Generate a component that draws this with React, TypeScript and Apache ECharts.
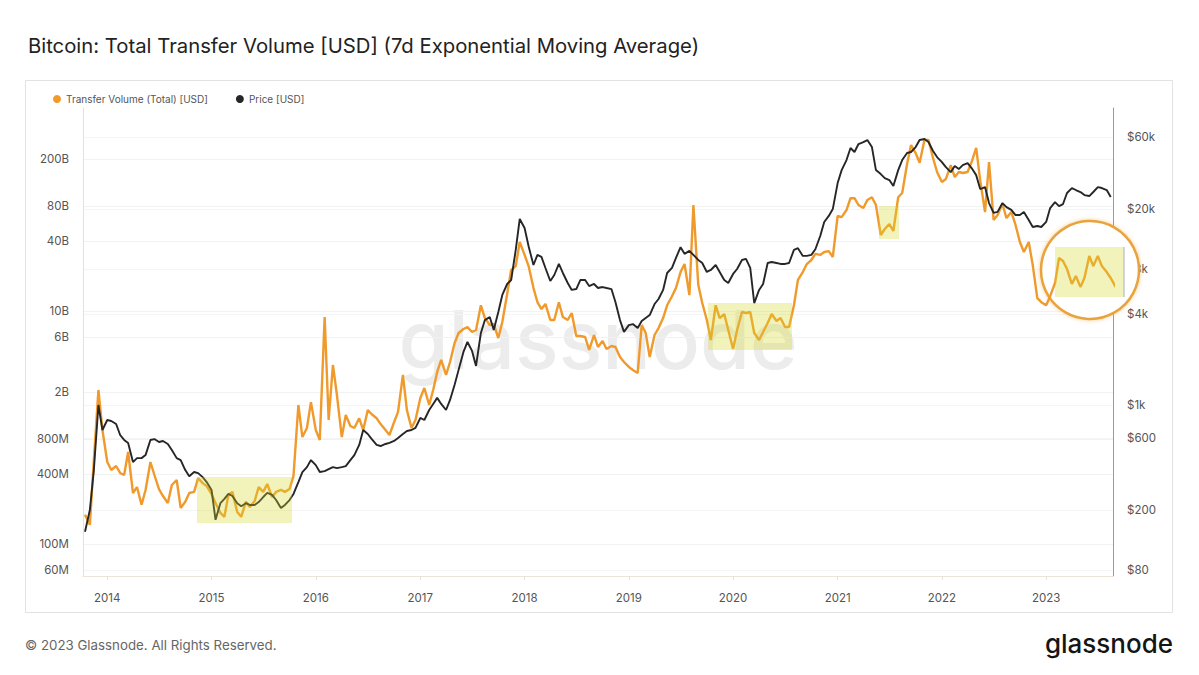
import React, { useEffect, useRef } from "react";
import * as echarts from "echarts";

// Semi-monthly samples (1st and 15th of each month), first sample 2013-10-15.
// Transfer volume in billions of USD (7d EMA).
const transferVolume: number[] = [
  // 2013
  0.178, 0.146, 0.526, 2.10, 0.952,
  // 2014
  0.505, 0.432, 0.467, 0.407, 0.391, 0.616, 0.274, 0.308, 0.217, 0.291, 0.505, 0.391,
  0.296, 0.258, 0.225, 0.321, 0.354, 0.204, 0.230, 0.274, 0.280, 0.368, 0.333, 0.314,
  // 2015
  0.269, 0.225, 0.185, 0.171, 0.264, 0.280, 0.188, 0.171, 0.230, 0.208, 0.234, 0.308,
  0.280, 0.327, 0.253, 0.280, 0.291, 0.280, 0.296, 0.384, 1.56, 0.828, 0.989, 1.65,
  // 2016
  0.952, 0.781, 8.87, 1.16, 3.44, 1.90, 0.828, 1.28, 1.03, 0.989, 1.20, 0.952,
  1.41, 1.30, 1.20, 1.07, 0.952, 0.862, 1.11, 1.36, 2.83, 1.41, 0.989, 1.16,
  // 2017
  1.79, 2.18, 1.56, 2.10, 3.00, 3.80, 2.83, 3.65, 5.31, 6.47, 7.01, 7.28,
  6.60, 6.87, 11.2, 8.70, 7.58, 7.73, 5.86, 8.04, 14.0, 22.5, 24.3, 39.1,
  // 2018
  30.3, 24.3, 15.8, 11.9, 10.4, 11.5, 8.37, 8.37, 11.9, 8.87, 8.37, 9.61,
  6.10, 6.10, 5.98, 4.63, 6.22, 4.91, 5.53, 4.72, 5.01, 4.91, 4.03, 3.65,
  // 2019
  3.31, 3.12, 2.94, 7.58, 6.47, 4.03, 6.22, 7.14, 8.70, 11.2, 13.4, 15.8,
  21.6, 25.3, 13.7, 81.3, 16.8, 11.7, 8.37, 5.64, 11.2, 8.70, 9.42, 6.87,
  // 2020
  4.72, 6.87, 9.80, 9.61, 9.80, 6.47, 5.64, 6.60, 7.88, 9.42, 8.20, 8.70,
  7.28, 7.28, 11.2, 18.5, 21.6, 25.3, 27.4, 30.9, 30.3, 32.1, 32.7, 29.1,
  // 2021
  65.4, 64.0, 73.6, 93.0, 93.0, 81.3, 76.5, 89.7, 94.8, 81.3, 44.9, 50.6,
  55.8, 48.6, 94.8, 103, 183, 266, 227, 187, 294, 294, 206, 156,
  // 2022
  128, 136, 179, 141, 156, 153, 156, 190, 251, 133, 70.7, 190,
  60.4, 66.7, 82.9, 62.8, 70.7, 55.8, 39.1, 32.1, 39.1, 24.8, 12.9, 11.9,
  // 2023
  11.2, 13.4, 17.4, 28.5, 26.9, 22.9, 17.1, 20.0, 16.1, 19.2, 29.7, 24.3,
  29.7, 24.3, 21.6, 19.2, 16.1, 21.6, 19.6,
];

// BTC price in USD on the same sample dates.
const btcPrice: number[] = [
  // 2013
  144, 201, 370, 1000, 682,
  // 2014
  795, 783, 748, 632, 586, 560, 418, 444, 444, 465, 586, 594,
  568, 577, 551, 502, 444, 431, 370, 337, 359, 353, 332, 308,
  // 2015
  273, 173, 223, 238, 257, 249, 223, 213, 223, 217, 217, 227,
  245, 261, 253, 234, 207, 217, 234, 257, 308, 359, 387, 431,
  // 2016
  399, 359, 364, 375, 387, 381, 387, 393, 431, 465, 543, 682,
  642, 594, 543, 534, 551, 560, 577, 604, 642, 672, 682, 704,
  // 2017
  820, 795, 926, 1016, 1115, 1016, 926, 1080, 1361, 1710, 2250, 2620,
  2285, 1815, 3008, 3660, 3834, 3150, 4142, 5371, 6352, 6750, 10700, 17160,
  // 2018
  14960, 11310, 8490, 9910, 9610, 8115, 6649, 7288, 8629, 7516, 6446, 5800,
  5879, 6750, 6750, 6156, 6352, 5974, 6062, 5974, 5879, 4821, 3660, 3056,
  // 2019
  3389, 3444, 3239, 3605, 3779, 3954, 4677, 5052, 5800, 7516, 8115, 9470,
  11140, 10070, 10540, 9910, 9170, 8757, 7634, 7870, 8490, 7634, 6750, 6446,
  // 2020
  7406, 7987, 9170, 9320, 8115, 4746, 5800, 6352, 8757, 8895, 8757, 8629,
  8629, 8757, 10700, 10970, 9758, 9758, 9910, 10800, 13220, 16390, 17970, 19950,
  // 2021
  29700, 36200, 42200, 50710, 47720, 53920, 55580, 57300, 51460, 36200, 34060, 32040,
  31100, 28360, 36200, 42200, 46990, 47720, 51460, 57300, 58180, 55580, 48460, 44180,
  // 2022
  40930, 37900, 35110, 38490, 36760, 39080, 40300, 37350, 33520, 27090, 27930, 21870,
  18810, 19110, 21870, 20560, 19700, 18240, 18240, 19110, 16900, 15180, 15410, 15180,
  // 2023
  16390, 20270, 22210, 20880, 21550, 25500, 27520, 26700, 25900, 24720, 24350, 25900,
  27930, 27520, 26700, 23980,
];

const volumeTicks = [0.06, 0.1, 0.4, 0.8, 2, 6, 10, 40, 80, 200];
const priceTicks = [80, 200, 600, 1000, 4000, 8000, 20000, 60000];
const yearTicks = [2014, 2015, 2016, 2017, 2018, 2019, 2020, 2021, 2022, 2023];

const VOLUME_NAME = "Transfer Volume (Total) [USD]";
const PRICE_NAME = "Price [USD]";
const ORANGE = "#f09a2c";
const DARK = "#262626";
const FONT = "Inter, 'Noto Sans', sans-serif";

function sampleDates(count: number): number[] {
  const out: number[] = [];
  let y = 2013;
  let m = 9;
  let d = 15;
  while (out.length < count) {
    out.push(new Date(y, m, d).getTime());
    if (d === 1) {
      d = 15;
    } else {
      d = 1;
      m += 1;
      if (m === 12) {
        m = 0;
        y += 1;
      }
    }
  }
  return out;
}

function volumeLabel(v: number): string {
  if (v < 1) return `${Math.round(v * 1000)}M`;
  return `${Math.round(v)}B`;
}

function priceLabel(v: number): string {
  if (v >= 1000) return `$${Math.round(v / 1000)}k`;
  return `$${Math.round(v)}`;
}

export default function App() {
  const ref = useRef<HTMLDivElement>(null);

  useEffect(() => {
    document.body.style.margin = "0";
    if (!ref.current) return;
    const chart = echarts.init(ref.current, null, { renderer: "svg" });

    const dates = sampleDates(transferVolume.length);
    const volumeData = transferVolume.map((v, i) => [dates[i], v]);
    const priceData = btcPrice.map((v, i) => [dates[i], v]);
    const yearStarts = yearTicks.map((y) => new Date(y, 0, 1).getTime());

    const axisText = { color: "#555", fontSize: 11.5, fontFamily: FONT };

    chart.setOption({
      animation: false,
      backgroundColor: "#ffffff",
      title: {
        text: "Bitcoin: Total Transfer Volume [USD] (7d Exponential Moving Average)",
        left: 23,
        top: 30,
        textStyle: { fontFamily: FONT, fontSize: 20.3, fontWeight: 400, color: "#222" },
      },
      legend: {
        left: 48,
        top: 89,
        icon: "circle",
        itemWidth: 8,
        itemHeight: 8,
        itemGap: 28,
        data: [VOLUME_NAME, PRICE_NAME],
        textStyle: { fontSize: 10, color: "#555", fontFamily: FONT },
      },
      grid: { left: 83, right: 86, top: 108, bottom: 99, containLabel: false },
      xAxis: {
        type: "value",
        min: new Date(2013, 9, 8).getTime(),
        max: new Date(2023, 7, 23).getTime(),
        axisLine: { show: true, lineStyle: { color: "#ece4d8" } },
        axisTick: { show: true, customValues: yearStarts, length: 4, lineStyle: { color: "#e2e2e2" } },
        axisLabel: {
          ...axisText,
          customValues: yearStarts,
          margin: 16,
          formatter: (v: number) => String(new Date(v).getFullYear()),
        },
        splitLine: { show: false },
      },
      yAxis: [
        {
          type: "log",
          position: "left",
          min: 0.0531,
          max: 553,
          axisLine: { show: true, lineStyle: { color: "#efdfc6" } },
          axisTick: { show: false, customValues: volumeTicks },
          axisLabel: { ...axisText, customValues: volumeTicks, margin: 14, formatter: volumeLabel },
          splitLine: { show: true, lineStyle: { color: "#f2f2f2", width: 1 } },
        },
        {
          type: "log",
          position: "right",
          min: 73.3,
          max: 93500,
          axisLine: { show: true, lineStyle: { color: "#9a9a9a" } },
          axisTick: { show: false, customValues: priceTicks },
          axisLabel: { ...axisText, customValues: priceTicks, margin: 14, formatter: priceLabel },
          splitLine: { show: true, lineStyle: { color: "#f5f5f5", width: 1 } },
        },
      ],
      series: [
        {
          name: VOLUME_NAME,
          type: "line",
          yAxisIndex: 0,
          data: volumeData,
          showSymbol: false,
          clip: false,
          color: ORANGE,
          lineStyle: { color: ORANGE, width: 2.4 },
          z: 2,
        },
        {
          name: PRICE_NAME,
          type: "line",
          yAxisIndex: 1,
          data: priceData,
          showSymbol: false,
          color: DARK,
          lineStyle: { color: DARK, width: 1.9 },
          z: 3,
        },
      ],
      graphic: [
        {
          type: "rect",
          z: 0,
          silent: true,
          shape: { x: 25.5, y: 80.5, width: 1147, height: 532 },
          style: { fill: "none", stroke: "#e2e2e2", lineWidth: 1 },
        },
        {
          type: "text",
          z: 0,
          silent: true,
          x: 598,
          y: 340,
          style: {
            text: "glassnode",
            fontSize: 81,
            fontWeight: 500,
            fontFamily: FONT,
            fill: "#ececec",
            textAlign: "center",
            textVerticalAlign: "middle",
          },
        },
        {
          type: "circle",
          z: 1,
          silent: true,
          shape: { cx: 1090, cy: 270, r: 49 },
          style: {
            fill: "#ffffff",
            stroke: "#e8a33c",
            lineWidth: 2.5,
            shadowBlur: 4,
            shadowColor: "rgba(240,165,60,0.55)",
          },
        },
        // highlighted ranging periods
        {
          type: "rect",
          z: 6,
          silent: true,
          shape: { x: 197, y: 477, width: 95, height: 46 },
          style: { fill: "rgba(215,215,45,0.32)" },
        },
        {
          type: "rect",
          z: 6,
          silent: true,
          shape: { x: 708, y: 303, width: 84, height: 47 },
          style: { fill: "rgba(215,215,45,0.32)" },
        },
        {
          type: "rect",
          z: 6,
          silent: true,
          shape: { x: 879, y: 206, width: 20, height: 33 },
          style: { fill: "rgba(215,215,45,0.32)" },
        },
        {
          type: "rect",
          z: 6,
          silent: true,
          shape: { x: 1055, y: 247, width: 69, height: 50 },
          style: { fill: "rgba(215,215,45,0.32)" },
        },
        {
          type: "line",
          z: 6,
          silent: true,
          shape: { x1: 1124, y1: 247, x2: 1124, y2: 297 },
          style: { stroke: "#a7b0bb", lineWidth: 1 },
        },
        {
          type: "text",
          z: 0,
          silent: true,
          x: 25,
          y: 645,
          style: {
            text: "© 2023 Glassnode. All Rights Reserved.",
            fontSize: 13.3,
            fontFamily: FONT,
            fill: "#666",
            textAlign: "left",
            textVerticalAlign: "middle",
          },
        },
        {
          type: "text",
          z: 0,
          silent: true,
          x: 1173,
          y: 643,
          style: {
            text: "glassnode",
            fontSize: 26,
            fontWeight: 500,
            fontFamily: FONT,
            fill: "#151515",
            textAlign: "right",
            textVerticalAlign: "middle",
          },
        },
      ],
    });

    return () => {
      chart.dispose();
    };
  }, []);

  return <div ref={ref} style={{ width: 1199, height: 675, background: "#fff" }} />;
}
